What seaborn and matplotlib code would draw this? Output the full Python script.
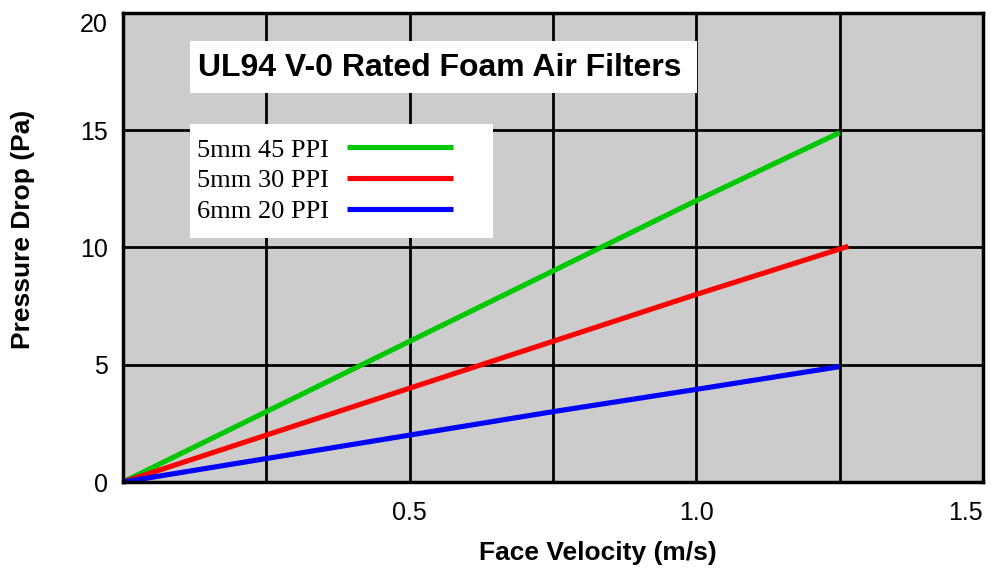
import matplotlib
matplotlib.use("Agg")
import matplotlib.pyplot as plt
import seaborn as sns
import pandas as pd
from matplotlib.patches import Rectangle

# ---- data ----
series_names = ["5mm 45 PPI", "5mm 30 PPI", "6mm 20 PPI"]
x_45ppi = [0.0, 0.25, 0.5, 0.75, 1.0, 1.25]
y_45ppi = [0.0, 3.0, 6.0, 9.0, 12.0, 14.9]
x_30ppi = [0.0, 0.25, 0.5, 0.75, 1.0, 1.265]
y_30ppi = [0.0, 2.0, 4.0, 6.0, 8.0, 10.05]
x_20ppi = [0.0, 0.25, 0.5, 0.75, 1.0, 1.25]
y_20ppi = [0.0, 1.0, 2.0, 3.0, 3.95, 4.92]
colors = ["#00c800", "#ff0000", "#0000ff"]
x_ticks = [0.5, 1.0, 1.5]
x_tick_labels = ["0.5", "1.0", "1.5"]
x_grid = [0.25, 0.5, 0.75, 1.0, 1.25]
y_ticks = [0, 5, 10, 15, 20]
y_tick_labels = ["0", "5", "10", "15", "20"]
title = "UL94 V-0 Rated Foam Air Filters"
x_label = "Face Velocity (m/s)"
y_label = "Pressure Drop (Pa)"

frames = []
for name, xs, ys in zip(series_names, [x_45ppi, x_30ppi, x_20ppi], [y_45ppi, y_30ppi, y_20ppi]):
    frames.append(pd.DataFrame({"v": xs, "p": ys, "filter": name}))
df = pd.concat(frames, ignore_index=True)

sns.set_theme(style="white")
plt.rcParams["font.family"] = ["Liberation Sans", "DejaVu Sans"]
plt.rcParams["text.color"] = "black"
plt.rcParams["axes.labelcolor"] = "black"
plt.rcParams["xtick.color"] = "black"
plt.rcParams["ytick.color"] = "black"

W, H = 1004, 573
fig = plt.figure(figsize=(W / 100, H / 100), dpi=100)
ax = fig.add_axes([123 / W, (H - 482) / H, (983 - 123) / W, (482 - 13) / H])
ax.set_facecolor("#cccccc")

sns.lineplot(data=df, x="v", y="p", hue="filter", hue_order=series_names,
             palette=colors, linewidth=3.7, ax=ax, legend=False,
             estimator=None, sort=False, zorder=3)
for ln in ax.get_lines():
    ln.set_solid_capstyle("butt")
    ln.set_clip_on(False)

ax.set_xlim(0, 1.5)
ax.set_ylim(0, 20)
ax.set_axisbelow(True)

# grid lines
for gx in x_grid:
    ax.axvline(gx, color="black", lw=2.0, zorder=1)
for gy in y_ticks[1:-1]:
    ax.axhline(gy, color="black", lw=2.0, zorder=1)

for sp in ax.spines.values():
    sp.set_visible(True)
    sp.set_color("black")
    sp.set_linewidth(2.5)
    sp.set_zorder(4)

ax.set_xticks(x_ticks)
ax.set_xticklabels(x_tick_labels)
ax.set_yticks(y_ticks)
ax.set_yticklabels(y_tick_labels)
ax.tick_params(axis="both", length=0, labelsize=18, colors="black", labelcolor="black")
ax.tick_params(axis="x", pad=14)
ax.tick_params(axis="y", pad=11)
xl = ax.get_xticklabels()
xl[-1].set_ha("right")
yl = ax.get_yticklabels()
yl[-1].set_va("top")

ax.set_xlabel(x_label, fontsize=19, fontweight="bold", va="center", color="black")
ax.xaxis.set_label_coords((597.5 - 123) / 860, (482 - 553) / 469)
ax.set_ylabel(y_label, fontsize=19, fontweight="bold", va="center", color="black")
ax.yaxis.set_label_coords((23 - 123) / 860, (482 - 229) / 469)

# title box
ax.add_patch(Rectangle((190 / W, (H - 93) / H), 507 / W, 52 / H,
                       transform=fig.transFigure, facecolor="white",
                       edgecolor="none", zorder=5, clip_on=False))
ax.text(198 / W, (H - 68) / H, title, transform=fig.transFigure, color="black",
        fontsize=23, fontweight="bold", ha="left", va="center", zorder=6)

# legend box
ax.add_patch(Rectangle((190 / W, (H - 238) / H), 303 / W, 114 / H,
                       transform=fig.transFigure, facecolor="white",
                       edgecolor="none", zorder=5, clip_on=False))
handles = [plt.Line2D([], [], color=c, lw=3.7, solid_capstyle="butt") for c in colors]
leg = ax.legend(handles, series_names, loc="upper left",
                bbox_to_anchor=(190 / W, (H - 131) / H),
                bbox_transform=fig.transFigure, frameon=False,
                markerfirst=False, handlelength=4.0, handletextpad=0.68,
                labelspacing=0.27, borderpad=0.27, borderaxespad=0,
                prop={"family": "Liberation Serif", "size": 19})
for t in leg.get_texts():
    t.set_color("black")
leg.set_zorder(7)

fig.savefig("out.png", dpi=100)
